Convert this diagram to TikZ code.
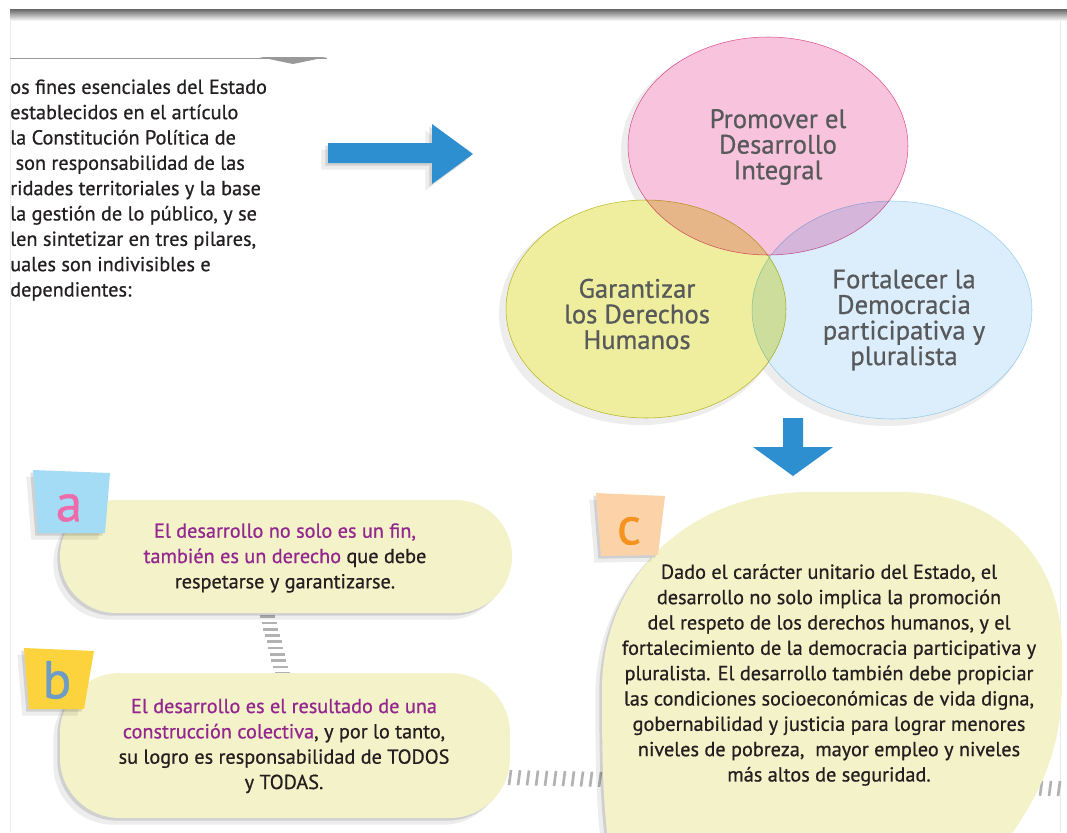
\documentclass[tikz,border=0pt]{standalone}
\usepackage{fontspec}
\setmainfont{PT Sans}[FakeBold=0.7]
\usetikzlibrary{shadows}
\definecolor{ArrowBlue}{HTML}{2E8FD0}
\definecolor{VennPink}{HTML}{F8C4DD}
\definecolor{VennPinkLine}{HTML}{E2619D}
\definecolor{VennYellow}{HTML}{EEEE9E}
\definecolor{VennYellowLine}{HTML}{C5C234}
\definecolor{VennBlue}{HTML}{DCEEFC}
\definecolor{VennBlueLine}{HTML}{A6D8F4}
\definecolor{VennInk}{HTML}{58595B}
\definecolor{BubbleCream}{HTML}{F4F2C8}
\definecolor{TextInk}{HTML}{231F20}
\definecolor{TextPurple}{HTML}{93278F}
\definecolor{TagBlue}{HTML}{A4DBF5}
\definecolor{TagPink}{HTML}{EE6BAA}
\definecolor{TagYellow}{HTML}{FCD33C}
\definecolor{TagSteel}{HTML}{6E9CC6}
\definecolor{TagPeach}{HTML}{FCD3A8}
\definecolor{TagOrange}{HTML}{F6921E}
\tikzset{
  bodytext/.style={font=\fontsize{15.2}{19}\selectfont, text=TextInk, align=center, inner sep=0pt},
  venntext/.style={font=\fontsize{20}{19.2}\selectfont, text=VennInk, align=center, inner sep=0pt},
  taglabel/.style={font=\fontsize{40}{40}\selectfont, inner sep=0pt},
  softshadow/.style={drop shadow={shadow xshift=-2pt, shadow yshift=-2pt, opacity=.12, fill=black},
                     drop shadow={shadow xshift=-5pt, shadow yshift=-5pt, opacity=.07, fill=black}},
  ladder/.style={black!30, line width=2pt},
}

\begin{document}
\begin{tikzpicture}[x=0.75pt, y=-0.75pt]
  \useasboundingbox (0,0) rectangle (1067,832);
  % page frame
  \shade[top color=black!60, bottom color=white] (10,9) rectangle (1067,21);
  \draw[black!8] (10,21) -- (10,832);
  \draw[black!8] (1060,21) -- (1060,832);
  \draw[black!40] (10,58) -- (327,58);
  \fill[black!40] (259,57) -- (327,57) -- (293,64) -- cycle;
  % intro paragraph
  \node[bodytext, align=left, anchor=west] (intro) at (10,190)
    {os fines esenciales del Estado\\ establecidos en el artículo\\ la Constitución Política de\\
     \hspace*{4pt}son responsabilidad de las\\ ridades territoriales y la base\\ la gestión de lo público, y se\\
     len sintetizar en tres pilares,\\ uales son indivisibles e\\ dependientes:};
  \fill[ArrowBlue, softshadow]
    (328,143) -- (432,143) -- (432,124) -- (473,154) -- (432,184) -- (432,163) -- (328,163) -- cycle;
  % venn of the three pillars
  \foreach \cx/\cy in {768/146, 646/309, 892/310}
    {\fill[black, opacity=.07] (\cx-5,\cy+5) ellipse [x radius=142, y radius=111];}
  \foreach \cx/\cy in {768/146, 646/309, 892/310}
    {\fill[white] (\cx,\cy) ellipse [x radius=140, y radius=109];}
  \filldraw[fill=VennPink, draw=VennPinkLine, blend mode=multiply] (768,146) ellipse [x radius=140, y radius=109];
  \filldraw[fill=VennYellow, draw=VennYellowLine, blend mode=multiply] (646,309) ellipse [x radius=140, y radius=109];
  \filldraw[fill=VennBlue, draw=VennBlueLine, blend mode=multiply] (892,310) ellipse [x radius=140, y radius=109];
  \node[venntext] (promover) at (778,147) {Promover el\\ Desarrollo\\ Integral};
  \node[venntext] (garantizar) at (637,314) {Garantizar\\ los Derechos\\ Humanos};
  \node[venntext] (fortalecer) at (904,320) {Fortalecer la\\ Democracia\\ participativa y\\ pluralista};
  \fill[ArrowBlue]
    (783,418) -- (803,418) -- (803,447) -- (833,447) -- (793,476) -- (753,447) -- (783,447) -- cycle;
  % ladders behind the bubbles
  \foreach \i in {0,...,11}
    {\draw[ladder] (257+1.6*\i, 604+6.3*\i) -- ++(15,0);}
  \foreach \x in {500,509,...,1066}
    {\draw[ladder] (\x+2, {770+0.02*(\x-505)}) -- (\x, {785+0.02*(\x-505)});}
  % bubbles
  \fill[BubbleCream, softshadow, rounded corners=42pt] (60,500) rectangle (512,613);
  \fill[BubbleCream, softshadow, rounded corners=45pt] (60,673) rectangle (510,818);
  \fill[BubbleCream, softshadow]
    (612,870) -- (608,840) .. controls (603,800) and (602,760) .. (602,690)
    .. controls (602,575) and (690,492) .. (810,492) -- (900,492)
    .. controls (995,492) and (1062,555) .. (1062,650) -- (1062,680)
    .. controls (1062,745) and (1045,790) .. (1000,850) -- cycle;
  \node[bodytext] (atext) at (285,558)
    {\textcolor{TextPurple}{El desarrollo no solo es un fin,}\\
     \textcolor{TextPurple}{también es un derecho} que debe\\ respetarse y garantizarse.};
  \node[bodytext] (btext) at (284,746)
    {\textcolor{TextPurple}{El desarrollo es el resultado de una}\\
     \textcolor{TextPurple}{construcción colectiva}, y por lo tanto,\\
     su logro es responsabilidad de TODOS\\ y TODAS.};
  \node[bodytext] (ctext) at (829,675)
    {Dado el carácter unitario del Estado, el\\ desarrollo no solo implica la promoción\\
     del respeto de los derechos humanos, y el\\ fortalecimiento de la democracia participativa y\\
     pluralista. El desarrollo también debe propiciar\\ las condiciones socioeconómicas de vida digna,\\
     gobernabilidad y justicia para lograr menores\\ niveles de pobreza,\ \ mayor empleo y niveles\\
     más altos de seguridad.};
  % letter tags
  \fill[TagBlue, softshadow] (33,470) -- (110,473) -- (105,533) -- (38,533) -- cycle;
  \node[taglabel, text=TagPink] (taga) at (69,508) {a};
  \fill[TagYellow, softshadow] (24,648) -- (94,651) -- (84,709) -- (29,709) -- cycle;
  \node[taglabel, text=TagSteel] (tagb) at (57,680) {b};
  \fill[TagPeach, softshadow] (596,493) -- (665,496) -- (658,555) -- (601,556) -- cycle;
  \node[taglabel, text=TagOrange] (tagc) at (629,531) {c};
\end{tikzpicture}
\end{document}
